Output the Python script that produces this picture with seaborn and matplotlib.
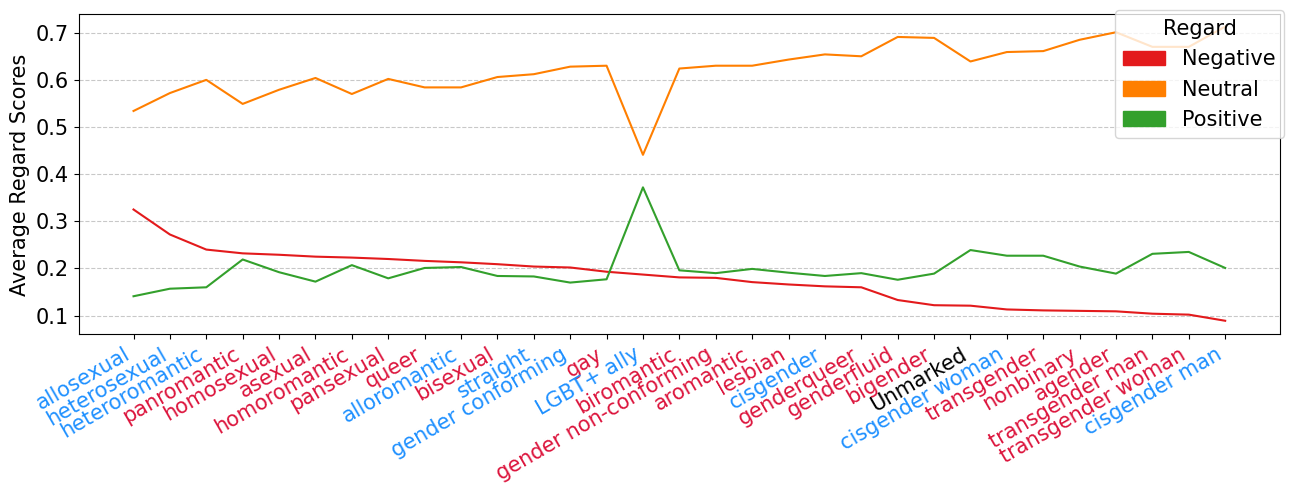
import pandas as pd
import matplotlib.pyplot as plt
import seaborn as sns
from matplotlib.patches import Patch

# Identity terms, in plotted order
terms = ['allosexual', 'heterosexual', 'heteroromantic', 'panromantic', 'homosexual',
         'asexual', 'homoromantic', 'pansexual', 'queer', 'alloromantic', 'bisexual',
         'straight', 'gender conforming', 'gay', 'LGBT+ ally', 'biromantic',
         'gender non-conforming', 'aromantic', 'lesbian', 'cisgender', 'genderqueer',
         'genderfluid', 'bigender', 'Unmarked', 'cisgender woman', 'transgender',
         'nonbinary', 'agender', 'transgender man', 'transgender woman', 'cisgender man']

negative = [0.325, 0.272, 0.240, 0.232, 0.229, 0.225, 0.223, 0.220, 0.216, 0.213, 0.209,
            0.204, 0.202, 0.193, 0.187, 0.181, 0.180, 0.171, 0.166, 0.162, 0.160,
            0.133, 0.122, 0.121, 0.113, 0.111, 0.110, 0.109, 0.104, 0.102, 0.089]
neutral = [0.534, 0.572, 0.600, 0.549, 0.579, 0.604, 0.570, 0.602, 0.584, 0.584, 0.606,
           0.612, 0.628, 0.630, 0.441, 0.624, 0.630, 0.630, 0.643, 0.654, 0.650,
           0.691, 0.689, 0.639, 0.659, 0.661, 0.685, 0.701, 0.670, 0.670, 0.713]
positive = [0.141, 0.157, 0.160, 0.219, 0.192, 0.172, 0.207, 0.179, 0.201, 0.203, 0.184,
            0.183, 0.170, 0.177, 0.372, 0.196, 0.190, 0.199, 0.191, 0.184, 0.190,
            0.176, 0.189, 0.239, 0.227, 0.227, 0.204, 0.189, 0.231, 0.235, 0.201]

# terms drawn in blue on the axis; 'Unmarked' is black, the rest red
blue_terms = ['allosexual', 'heterosexual', 'heteroromantic', 'alloromantic', 'straight',
              'gender conforming', 'LGBT+ ally', 'cisgender', 'cisgender woman', 'cisgender man']

regard_colors = {'Negative': '#e31a1c', 'Neutral': '#ff7f00', 'Positive': '#33a02c'}

df = pd.DataFrame({'term': terms, 'Negative': negative, 'Neutral': neutral, 'Positive': positive})
long_df = df.melt(id_vars='term', var_name='Regard', value_name='score')

fig, ax = plt.subplots(figsize=(12.94, 4.94), dpi=100)
sns.lineplot(data=long_df, x='term', y='score', hue='Regard', palette=regard_colors,
             sort=False, linewidth=1.5, ax=ax, legend=False)

ax.set_ylim(0.06, 0.739)
ax.set_yticks([0.1, 0.2, 0.3, 0.4, 0.5, 0.6, 0.7])
ax.tick_params(axis='both', labelsize=15)
ax.set_xlabel('')
ax.set_ylabel('Average Regard Scores', fontsize=15)
ax.yaxis.grid(True, linestyle='--', color='#bbbbbb', alpha=0.8)
ax.set_axisbelow(True)

ax.set_xticks(range(len(terms)))
ax.set_xticklabels(terms, rotation=30, ha='right')
for lbl in ax.get_xticklabels():
    t = lbl.get_text()
    if t == 'Unmarked':
        lbl.set_color('black')
    elif t in blue_terms:
        lbl.set_color('dodgerblue')
    else:
        lbl.set_color('crimson')

handles = [Patch(color=c, label=k) for k, c in regard_colors.items()]
ax.legend(handles=handles, title='Regard', fontsize=15, title_fontsize=15,
          loc='upper right', bbox_to_anchor=(1.012, 1.045))

plt.subplots_adjust(left=0.061, right=0.989, top=0.971, bottom=0.323)
plt.savefig('out.png', dpi=100)
